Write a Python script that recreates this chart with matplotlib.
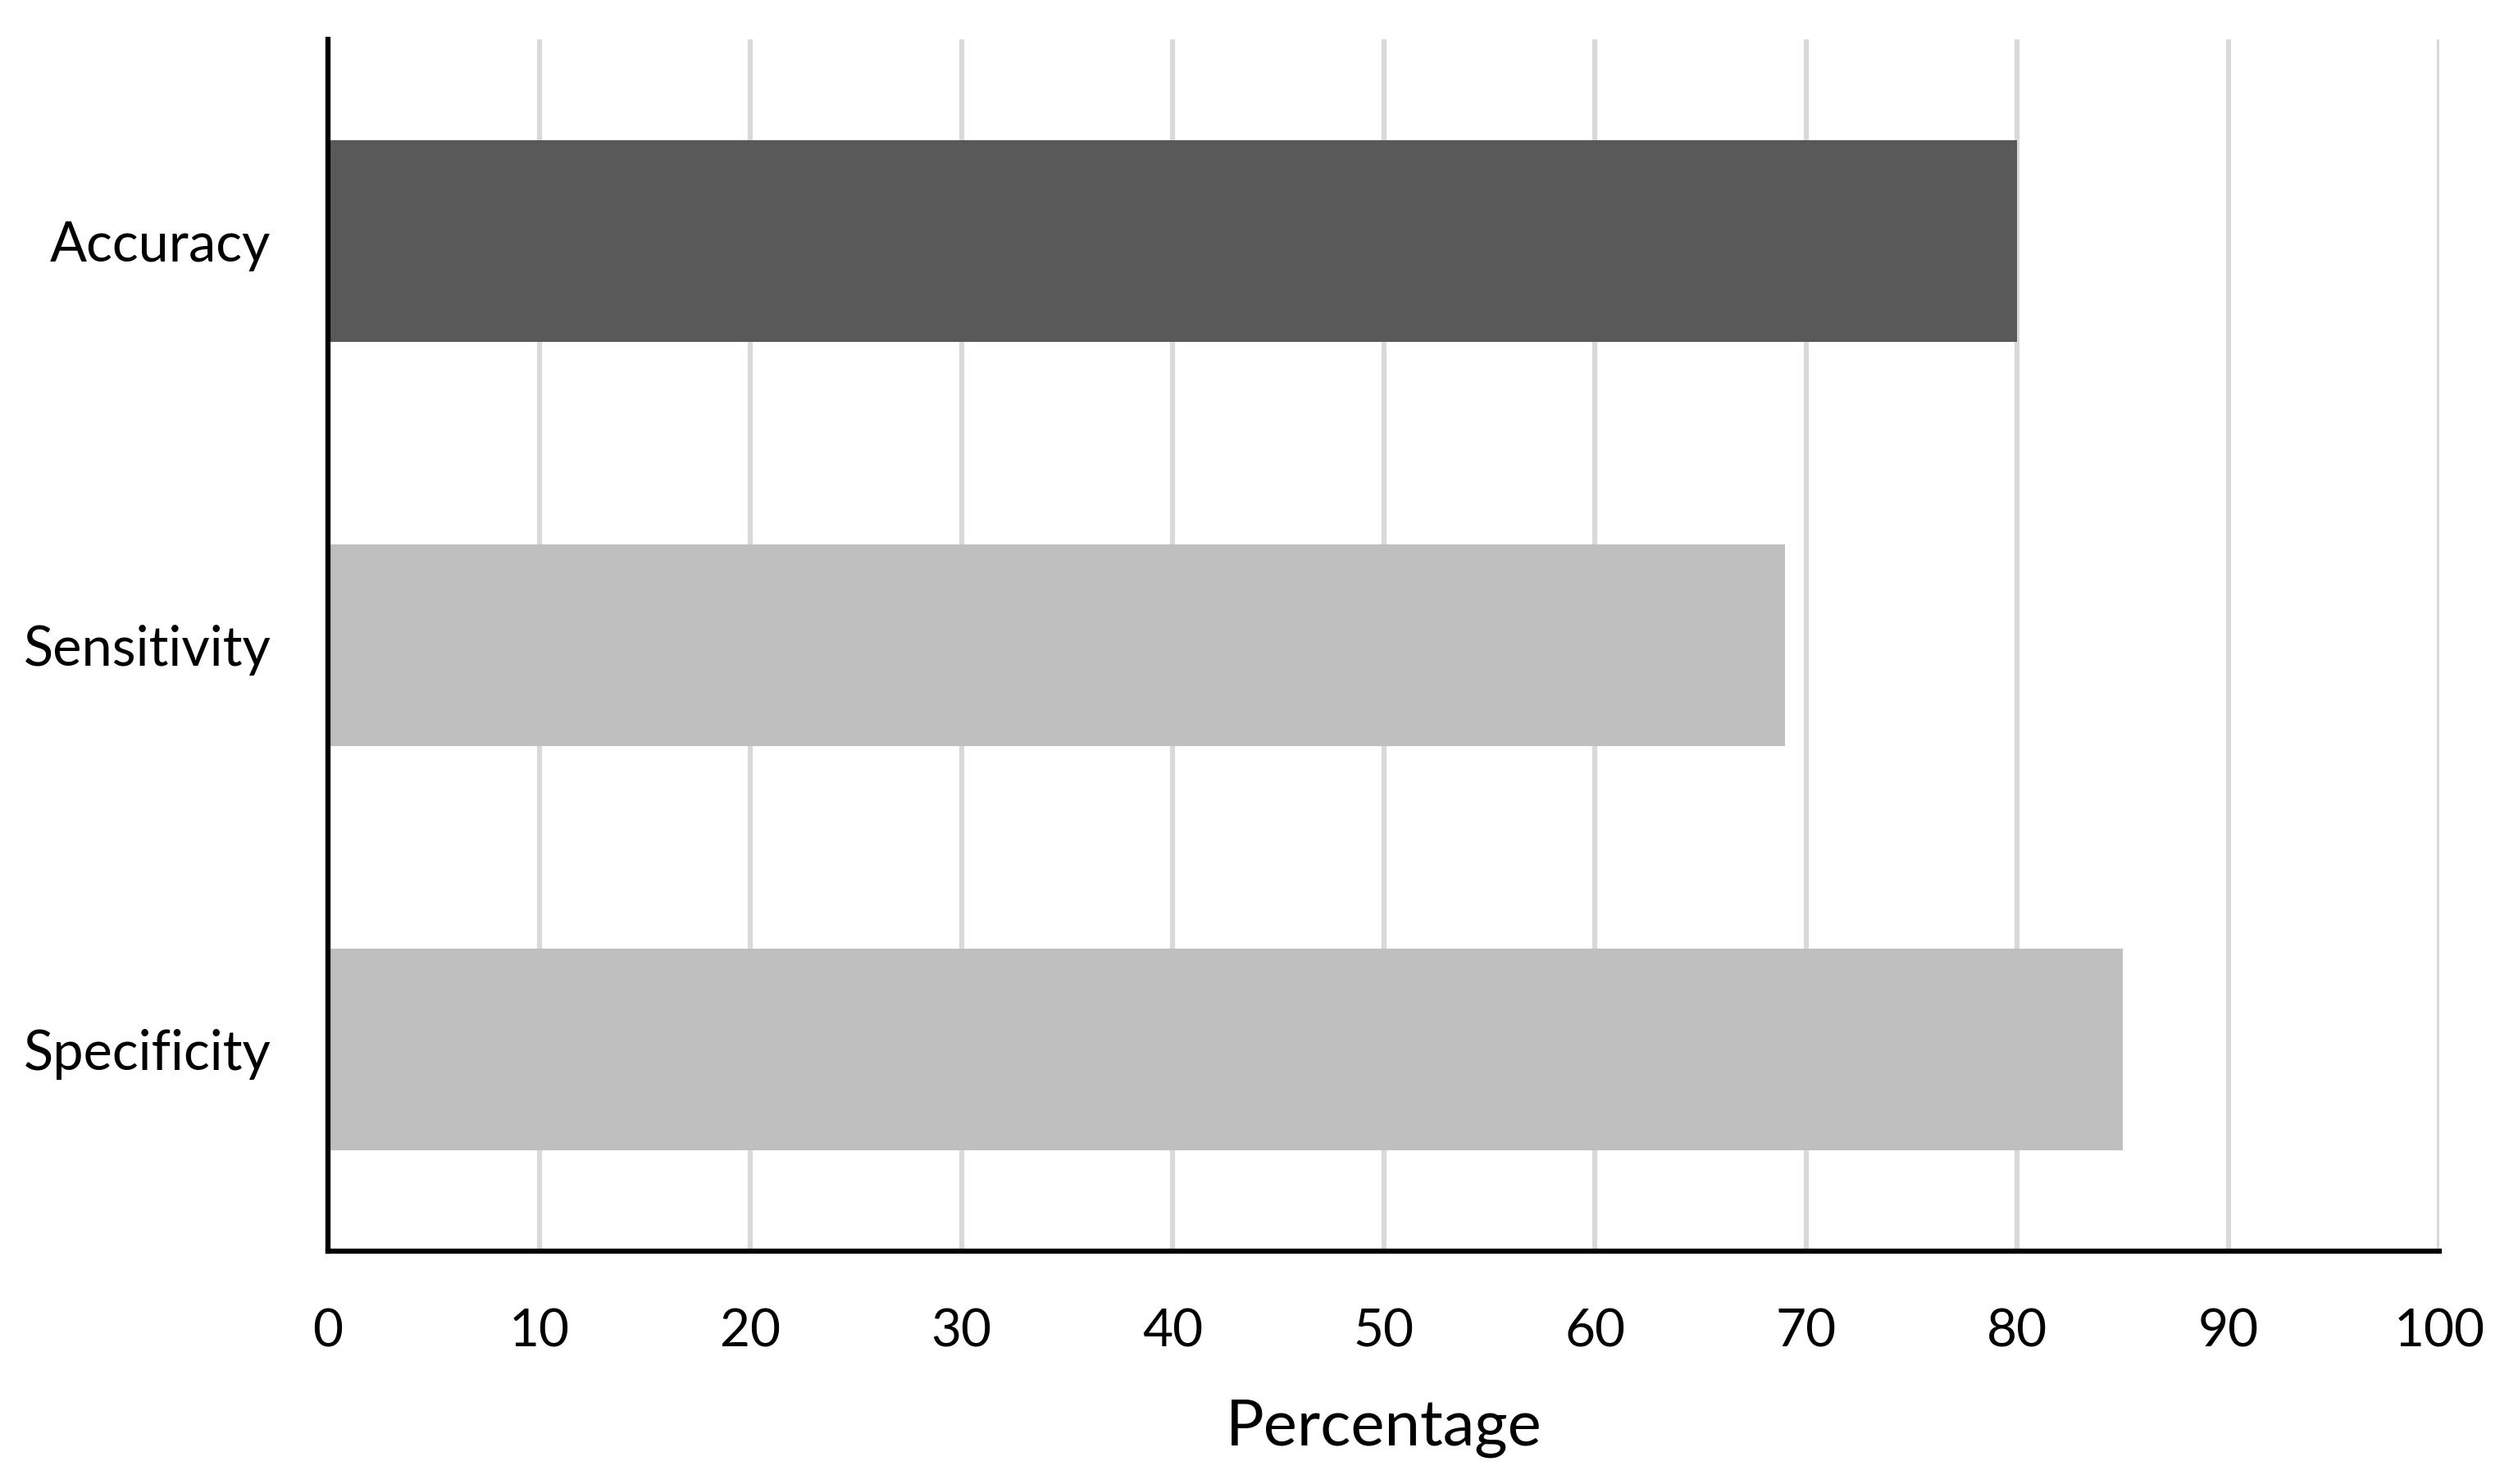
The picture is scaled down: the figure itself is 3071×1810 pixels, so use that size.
import matplotlib.pyplot as plt
import numpy as np

categories = ["Accuracy", "Sensitivity", "Specificity"]
values = [80, 69, 85]
colors = ["#595959", "#bfbfbf", "#bfbfbf"]
xticks = [0, 10, 20, 30, 40, 50, 60, 70, 80, 90, 100]

plt.rcParams['font.family'] = ['Lato', 'DejaVu Sans']

fig = plt.figure(figsize=(30.71, 18.10), dpi=100)
ax = fig.add_axes([400/3071, 1 - 1526/1810, (2975 - 400)/3071, (1526 - 48)/1810])

y = np.arange(len(categories))
ax.barh(y, values, height=0.5, color=colors, zorder=3)

ax.set_xlim(0, 100)
ax.set_ylim(2.5, -0.5)
ax.set_xticks(xticks)
ax.set_xticklabels([str(t) for t in xticks])
ax.set_yticks(y)
ax.set_yticklabels(categories)

ax.xaxis.grid(True, color="#d9d9d9", linewidth=4.5, zorder=0)
ax.set_axisbelow(True)

for s in ["top", "right"]:
    ax.spines[s].set_visible(False)
for s in ["left", "bottom"]:
    ax.spines[s].set_linewidth(4.5)
    ax.spines[s].set_color("black")
    ax.spines[s].set_zorder(4)

ax.tick_params(axis="x", length=0, labelsize=46, pad=50)
ax.tick_params(axis="y", length=0, labelsize=48, pad=50)

ax.set_xlabel("Percentage", fontsize=56, labelpad=38)

fig.savefig("out.png", dpi=100)
